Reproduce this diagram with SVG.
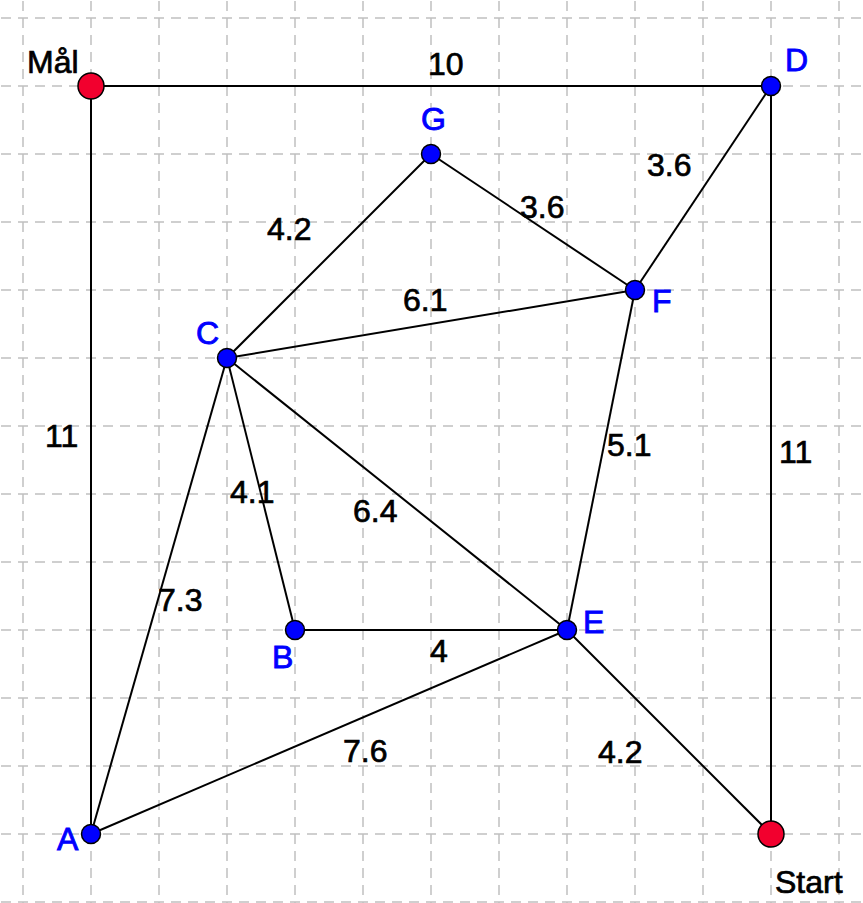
<svg xmlns="http://www.w3.org/2000/svg" width="863" height="903" viewBox="0 0 863 903">
<style>
.grid line{stroke:#c0c0c0;stroke-width:1.5;stroke-dasharray:10 7}
.edges line{stroke:#000;stroke-width:2}
.t{font-family:"Liberation Sans",Arial,sans-serif;font-size:32px;fill:#000;stroke:#000;stroke-width:0.7}
.b{font-family:"Liberation Sans",Arial,sans-serif;font-size:32px;fill:#0000ff;stroke:#0000ff;stroke-width:0.9}
.pb{fill:#0000ff;stroke:#000;stroke-width:1.5}
.pr{fill:#f2002e;stroke:#000;stroke-width:1.5}
</style>
<rect width="863" height="903" fill="#fff"/>
<g class="grid">
<line x1="23" y1="1" x2="23" y2="903"/><line x1="91" y1="1" x2="91" y2="903"/><line x1="159" y1="1" x2="159" y2="903"/><line x1="227" y1="1" x2="227" y2="903"/><line x1="295" y1="1" x2="295" y2="903"/><line x1="363" y1="1" x2="363" y2="903"/><line x1="431" y1="1" x2="431" y2="903"/><line x1="499" y1="1" x2="499" y2="903"/><line x1="567" y1="1" x2="567" y2="903"/><line x1="635" y1="1" x2="635" y2="903"/><line x1="703" y1="1" x2="703" y2="903"/><line x1="771" y1="1" x2="771" y2="903"/><line x1="839" y1="1" x2="839" y2="903"/>
<line x1="1" y1="18" x2="863" y2="18"/><line x1="1" y1="86" x2="863" y2="86"/><line x1="1" y1="154" x2="863" y2="154"/><line x1="1" y1="222" x2="863" y2="222"/><line x1="1" y1="290" x2="863" y2="290"/><line x1="1" y1="358" x2="863" y2="358"/><line x1="1" y1="426" x2="863" y2="426"/><line x1="1" y1="494" x2="863" y2="494"/><line x1="1" y1="562" x2="863" y2="562"/><line x1="1" y1="630" x2="863" y2="630"/><line x1="1" y1="698" x2="863" y2="698"/><line x1="1" y1="766" x2="863" y2="766"/><line x1="1" y1="834" x2="863" y2="834"/><line x1="1" y1="902" x2="863" y2="902"/>
</g>
<g id="connectors" class="edges">
<line x1="91" y1="86" x2="771" y2="86"/>
<line x1="91" y1="86" x2="91" y2="834"/>
<line x1="771" y1="86" x2="771" y2="834"/>
<line x1="771" y1="86" x2="635" y2="290"/>
<line x1="431" y1="154" x2="635" y2="290"/>
<line x1="227" y1="358" x2="431" y2="154"/>
<line x1="227" y1="358" x2="635" y2="290"/>
<line x1="227" y1="358" x2="295" y2="630"/>
<line x1="227" y1="358" x2="567" y2="630"/>
<line x1="227" y1="358" x2="91" y2="834"/>
<line x1="295" y1="630" x2="567" y2="630"/>
<line x1="635" y1="290" x2="567" y2="630"/>
<line x1="91" y1="834" x2="567" y2="630"/>
<line x1="567" y1="630" x2="771" y2="834"/>
</g>
<g id="edge-labels">
<text class="t" x="428" y="75">10</text>
<text class="t" x="647" y="176">3.6</text>
<text class="t" x="520" y="218">3.6</text>
<text class="t" x="267" y="240">4.2</text>
<text class="t" x="403" y="311">6.1</text>
<text class="t" x="45" y="447">11</text>
<text class="t" x="779" y="463">11</text>
<text class="t" x="607" y="456">5.1</text>
<text class="t" x="230" y="503">4.1</text>
<text class="t" x="353" y="522">6.4</text>
<text class="t" x="158" y="611">7.3</text>
<text class="t" x="430" y="662">4</text>
<text class="t" x="343" y="762">7.6</text>
<text class="t" x="598" y="763">4.2</text>
</g>
<g id="Mal"><circle class="pr" cx="91" cy="86" r="13"/><text class="t" x="27" y="73">Mål</text></g>
<g id="D"><circle class="pb" cx="771" cy="86" r="9.5"/><text class="b" x="785" y="71">D</text></g>
<g id="G"><circle class="pb" cx="431" cy="154" r="9.5"/><text class="b" x="421" y="130">G</text></g>
<g id="F"><circle class="pb" cx="635" cy="290" r="9.5"/><text class="b" x="652" y="312">F</text></g>
<g id="C"><circle class="pb" cx="227" cy="358" r="9.5"/><text class="b" x="196" y="344">C</text></g>
<g id="B"><circle class="pb" cx="295" cy="630" r="9.5"/><text class="b" x="272" y="668">B</text></g>
<g id="E"><circle class="pb" cx="567" cy="630" r="9.5"/><text class="b" x="583" y="633">E</text></g>
<g id="A"><circle class="pb" cx="91" cy="834" r="9.5"/><text class="b" x="57" y="850">A</text></g>
<g id="Start"><circle class="pr" cx="771" cy="834" r="13"/><text class="t" x="775" y="893">Start</text></g>
</svg>
